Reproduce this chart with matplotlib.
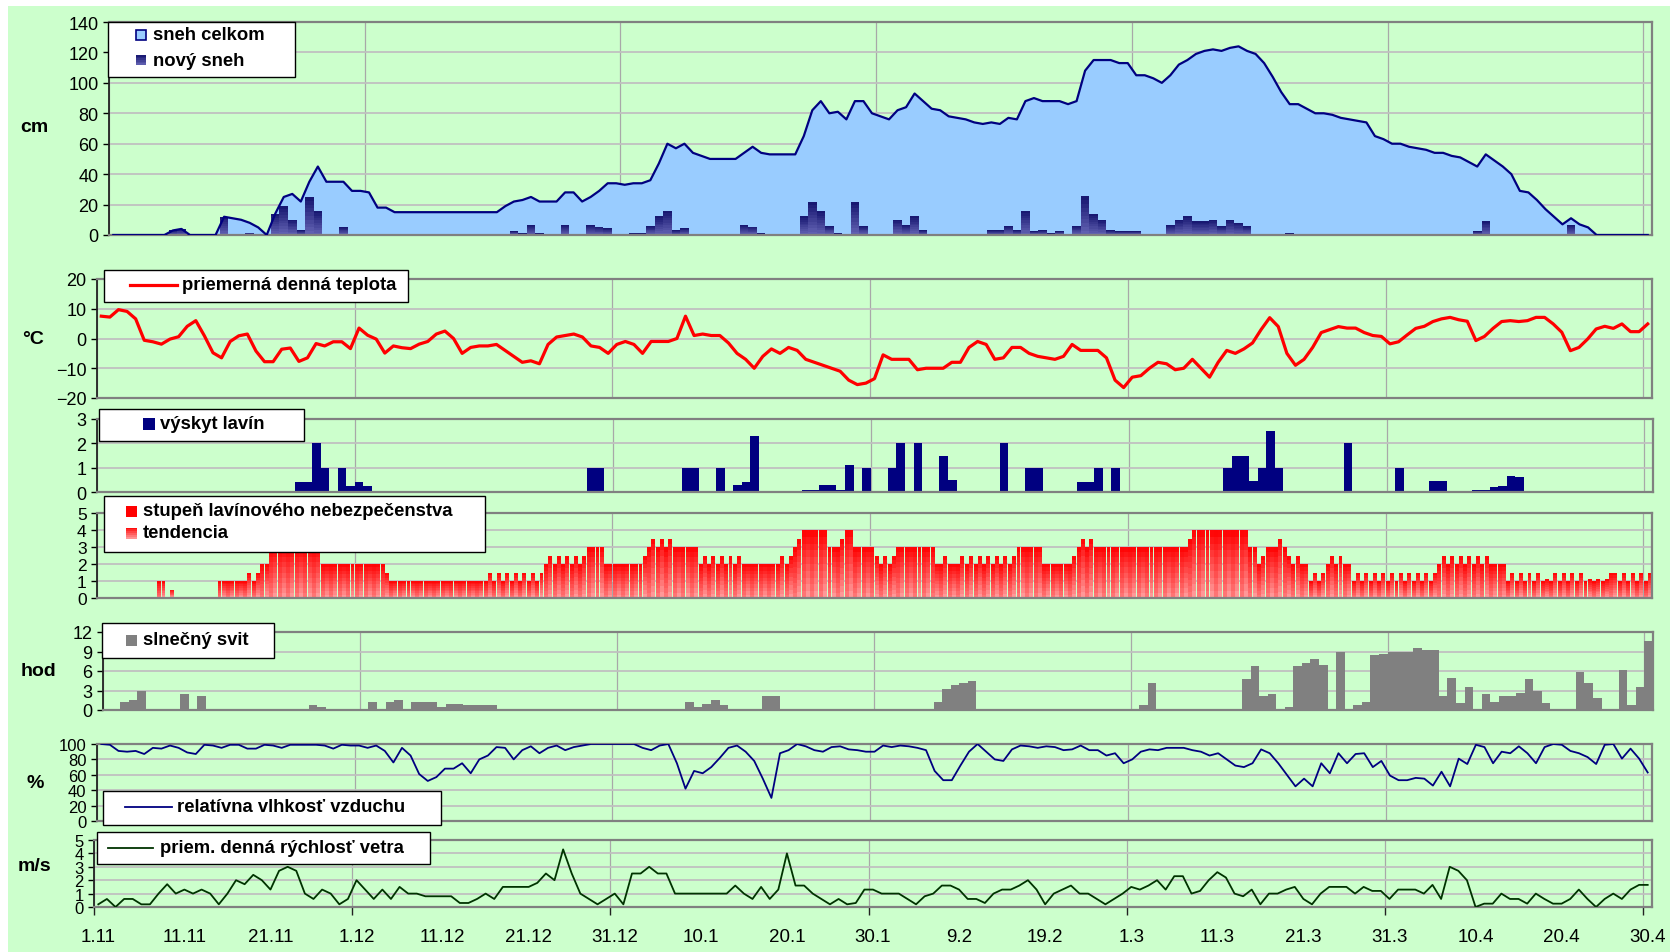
import numpy as np
import matplotlib.pyplot as plt
from matplotlib.patches import Rectangle
from matplotlib.lines import Line2D
from matplotlib.colors import to_rgb

plt.rcParams['font.family'] = ['Liberation Sans', 'DejaVu Sans']

W, H = 1670, 953  # output size in pixels
GREEN = '#CCFFCC'

# ---- data: one value per day, 1.11 .. 30.4 (181 days) ----
date_labels = ['1.11', '11.11', '21.11', '1.12', '11.12', '21.12', '31.12', '10.1', '20.1', '30.1',
               '9.2', '19.2', '1.3', '11.3', '21.3', '31.3', '10.4', '20.4', '30.4']
label_days = list(range(0, 181, 10))

snow_total = [0, 0, 0, 0, 0, 0, 0, 3, 4, 0,
              0, 0, 0, 12, 11, 10, 8, 5, 0, 14,
              25, 27, 22, 35, 45, 35, 35, 35, 29, 29,
              28, 18, 18, 15, 15, 15, 15, 15, 15, 15,
              15, 15, 15, 15, 15, 15, 19, 22, 23, 25,
              22, 22, 22, 28, 28, 22, 25, 29, 34, 34,
              33, 34, 34, 36, 47, 60, 57, 60, 54, 52,
              50, 50, 50, 50, 54, 58, 54, 53, 53, 53,
              53, 65, 82, 88, 80, 81, 76, 88, 88, 80,
              78, 76, 82, 84, 93, 88, 83, 82, 78, 77,
              76, 74, 73, 74, 73, 77, 76, 88, 90, 88,
              88, 88, 86, 88, 108, 115, 115, 115, 113, 113,
              105, 105, 103, 100, 105, 112, 115, 119, 121, 122,
              121, 123, 124, 121, 119, 113, 104, 94, 86, 86,
              83, 80, 80, 79, 77, 76, 75, 74, 65, 63,
              60, 60, 58, 57, 56, 54, 54, 52, 51, 48,
              45, 53, 49, 45, 40, 29, 28, 23, 17, 12,
              7, 11, 7, 5, 0, 0, 0, 0, 0, 0,
              0]

new_snow_days = [7, 8, 13, 16, 19, 20, 21, 22, 23, 24, 27, 47, 48, 49, 50, 53, 56, 57, 58, 61,
                 62, 63, 64, 65, 66, 67, 74, 75, 76, 81, 82, 83, 84, 85, 87, 88, 92, 93, 94, 95,
                 103, 104, 105, 106, 107, 108, 109, 110, 111, 113, 114, 115, 116, 117, 118, 119, 120,
                 124, 125, 126, 127, 128, 129, 130, 131, 132, 133, 138, 160, 161, 171]
new_snow_cm = [3, 4, 12, 1.5, 14, 19, 10, 3, 25, 16, 5, 2.5, 1, 6.5, 1, 6.5, 6.5, 5.5, 4.5, 1,
               1, 6, 12.5, 16, 3, 4.5, 6.5, 5.5, 1, 12.5, 22, 16, 6, 1, 22, 6, 10, 6.5, 12.5, 3,
               3, 3, 6, 3, 16, 2.5, 3, 1, 2.5, 6, 25.5, 14, 10, 3, 2.5, 2.5, 2.5,
               6.5, 10, 12.5, 9, 9, 10, 6, 10, 8, 6, 1, 2.5, 9, 6.5]

temp = [7.5, 7.2, 9.7, 9.1, 6.6, -0.6, -1.1, -1.9, -0.2, 0.6,
        4.1, 6.0, 0.9, -4.8, -6.5, -1.0, 0.9, 1.5, -4.2, -7.8,
        -7.8, -3.6, -3.2, -7.7, -6.5, -1.7, -2.5, -1.1, -1.1, -3.4,
        3.5, 1.1, -0.2, -4.9, -2.5, -3.1, -3.4, -1.9, -1, 1.5,
        2.5, 0, -5, -3, -2.5, -2.5, -2, -4, -6, -8,
        -7.5, -8.5, -2, 0.5, 1, 1.5, 0.5, -2.5, -3, -5,
        -2, -1, -2, -5, -1, -1, -1, 0, 7.5, 1,
        1.5, 1, 1, -1.5, -5, -7, -10, -6, -3.5, -5,
        -3, -4, -7, -8, -9, -10, -11, -14, -15.5, -15,
        -13.5, -5.5, -7, -7, -7, -10.5, -10, -10, -10, -8,
        -8, -3, -1, -2, -7, -6.5, -3, -3, -5, -6,
        -6.5, -7, -6, -2, -4, -4, -4, -6.5, -14, -16.5,
        -13, -12.5, -10, -8, -8.5, -10.5, -10, -7, -10, -13,
        -8, -4, -5, -3.5, -1.5, 3, 7, 4, -5, -9,
        -7, -3, 2, 3, 4, 3.5, 3.5, 2, 1, 0.7,
        -1.8, -1.1, 1.2, 3.4, 4.1, 5.7, 6.6, 7.1, 6.3, 5.8,
        -0.7, 0.7, 3.4, 5.7, 6, 5.7, 6, 7.1, 7.1, 4.9,
        2.1, -4.1, -3, -0.2, 3.2, 4.1, 3.4, 4.9, 2.3, 2.3,
        4.9]

aval_days = [23, 24, 25, 26, 28, 29, 30, 31, 57, 58, 68, 69, 72, 74, 75, 76, 82, 83, 84, 85,
             86, 87, 89, 92, 93, 95, 98, 99, 105, 108, 109, 114, 115, 116, 118, 131, 132, 133,
             134, 135, 136, 137, 145, 151, 155, 156, 160, 161, 162, 163, 164, 165]
aval_count = [0.4, 0.4, 2, 1, 1, 0.25, 0.4, 0.25, 1, 1, 1, 1, 1, 0.27, 0.4, 2.3, 0.1, 0.1, 0.27, 0.27,
              0.1, 1.1, 1, 1, 2, 2, 1.5, 0.5, 2, 1, 1, 0.4, 0.4, 1, 1, 1, 1.5, 1.5,
              0.45, 1, 2.5, 1, 2, 1, 0.45, 0.45, 0.1, 0.1, 0.2, 0.25, 0.66, 0.62]

danger = [0, 0, 0, 0, 0, 0, 0, 1, 0, 0,
          0, 0, 0, 0, 1, 1, 1, 1, 1, 2,
          3, 3, 3, 3, 3, 3, 2, 2, 2, 2,
          2, 2, 2, 2, 1, 1, 1, 1, 1, 1,
          1, 1, 1, 1, 1, 1, 1, 1, 1, 1,
          1, 1, 2, 2, 2, 2, 2, 3, 3, 2,
          2, 2, 2, 2, 3, 3, 3, 3, 3, 3,
          2, 2, 2, 2, 2, 2, 2, 2, 2, 2,
          2, 3, 4, 4, 4, 3, 3, 4, 3, 3,
          3, 2, 2, 3, 3, 3, 3, 3, 2, 2,
          2, 2, 2, 2, 2, 2, 2, 3, 3, 3,
          2, 2, 2, 2, 3, 3, 3, 3, 3, 3,
          3, 3, 3, 3, 3, 3, 3, 3.5, 4, 4,
          4, 4, 4, 4, 3, 2, 3, 3, 3, 2,
          2, 1, 1, 2, 2, 2, 1, 1, 1, 1,
          1, 1, 1, 1, 1, 1, 2, 2, 2, 2,
          2, 2, 2, 2, 1, 1, 1, 1, 1, 1,
          1, 1, 1, 1, 1, 1, 1.5, 1, 1, 1,
          1]
tendency = [0, 0, 0, 0, 0, 0, 0, 1, 0.5, 0,
            0, 0, 0, 0, 1, 1, 1, 1.5, 1.5, 2,
            3, 3, 3, 3, 3, 3, 2, 2, 2, 2,
            2, 2, 2, 1.5, 1, 1, 1, 1, 1, 1,
            1, 1, 1, 1, 1, 1.5, 1.5, 1.5, 1.5, 1.5,
            1.5, 1.5, 2.5, 2.5, 2.5, 2.5, 2.5, 3, 3, 2,
            2, 2, 2, 2.5, 3.5, 3.5, 3.5, 3, 3, 3,
            2.5, 2.5, 2.5, 2.5, 2.5, 2, 2, 2, 2, 2.5,
            2.5, 3.5, 4, 4, 4, 3, 3.5, 4, 3, 3,
            2.5, 2.5, 2.5, 3, 3, 3, 3, 2, 2.5, 2,
            2.5, 2.5, 2.5, 2.5, 2.5, 2.5, 2.5, 3, 3, 3,
            2, 2, 2, 2.5, 3.5, 3.5, 3, 3, 3, 3,
            3, 3, 3, 3, 3, 3, 3, 4, 4, 4,
            4, 4, 4, 4, 3, 2.5, 3, 3.5, 2.5, 2.5,
            2, 1.5, 1.5, 2.5, 2.5, 2, 1.5, 1.5, 1.5, 1.5,
            1.5, 1.5, 1.5, 1.5, 1.5, 1.5, 2.5, 2.5, 2.5, 2.5,
            2.5, 2.5, 2, 2, 1.5, 1.5, 1.5, 1.5, 1.1, 1.5,
            1.5, 1.5, 1.5, 1.1, 1.1, 1.1, 1.5, 1.5, 1.5, 1.5,
            1.5]

sun_days = [2, 3, 4, 9, 11, 24, 25, 31, 33, 34, 36, 37, 38, 39, 40, 41, 42, 43, 44, 45,
            68, 69, 70, 71, 72, 76, 77, 78, 97, 98, 99, 100, 101, 121, 122, 128, 131, 133, 134, 135,
            136, 138, 139, 140, 141, 142, 144, 146, 147, 148, 149, 150, 151, 152, 153, 154, 155, 156,
            157, 158, 159, 161, 162, 163, 164, 165, 166, 167, 168, 169, 172, 173, 174, 176, 177, 178,
            179, 180]
sun_hours = [1.2, 1.5, 2.9, 2.4, 2.1, 0.8, 0.5, 1.2, 1.2, 1.5, 1.2, 1.2, 1.2, 0.5, 1.0, 1.0, 0.75, 0.75, 0.75, 0.75,
             1.2, 0.5, 1.0, 1.5, 0.75, 0.15, 2.1, 2.1, 1.2, 3.2, 3.8, 4.1, 4.4, 0.75, 4.1, 0.15, 0.15, 4.7, 6.7, 2.1,
             2.4, 0.5, 6.7, 7.2, 7.8, 7.0, 8.9, 0.75, 1.2, 8.4, 8.6, 8.9, 8.9, 8.9, 9.5, 9.2, 9.2, 2.1,
             4.9, 1.1, 3.5, 2.4, 1.2, 2.1, 2.1, 2.6, 4.7, 3.0, 1.1, 0.15, 5.8, 4.1, 1.8, 0.15, 6.1, 0.75,
             3.5, 10.6]

humidity = [100, 99, 91, 90, 91, 87, 95, 94, 98, 95,
            89, 87, 99, 98, 95, 99, 99, 94, 94, 99,
            98, 95, 99, 99, 99, 99, 98, 94, 99, 98,
            98, 95, 98, 91, 76, 95, 85, 61, 52, 57,
            68, 68, 75, 62, 80, 85, 96, 95, 80, 92,
            97, 88, 95, 98, 92, 96, 98, 100, 100, 100,
            100, 100, 100, 95, 92, 98, 100, 75, 42, 65,
            62, 70, 82, 95, 98, 90, 78, 55, 30, 88,
            92, 100, 97, 92, 90, 96, 97, 93, 92, 90,
            90, 98, 96, 98, 97, 95, 92, 65, 53, 53,
            72, 90, 100, 90, 80, 78, 93, 98, 97, 95,
            97, 96, 92, 93, 98, 92, 92, 85, 88, 75,
            80, 90, 93, 92, 95, 95, 95, 92, 90, 85,
            88, 80, 72, 70, 75, 93, 88, 75, 60, 45,
            55, 45, 75, 62, 88, 75, 87, 88, 70, 78,
            59, 53, 53, 56, 55, 46, 64, 45, 81, 74,
            99, 96, 75, 90, 88, 97, 88, 75, 96, 100,
            99, 91, 88, 83, 74, 99, 100, 81, 94, 81,
            63]

wind = [0.2, 0.6, 0, 0.6, 0.6, 0.2, 0.2, 1.0, 1.7, 1.0,
        1.3, 1.0, 1.3, 1.0, 0.2, 1.0, 2.0, 1.7, 2.4, 2.0,
        1.3, 2.7, 3.0, 2.7, 1.0, 0.6, 1.3, 1.0, 0.2, 0.6,
        2.0, 1.3, 0.6, 1.3, 0.6, 1.5, 1.0, 1.0, 0.8, 0.8,
        0.8, 0.8, 0.3, 0.3, 0.6, 1.0, 0.6, 1.5, 1.5, 1.5,
        1.5, 1.8, 2.5, 2.0, 4.3, 2.5, 1.0, 0.6, 0.2, 0.6,
        1.0, 0.2, 2.5, 2.5, 3.0, 2.5, 2.5, 1.0, 1.0, 1.0,
        1.0, 1.0, 1.0, 1.0, 1.6, 1.0, 0.6, 1.5, 0.6, 1.3,
        4.0, 1.6, 1.6, 1.0, 0.6, 0.2, 0.6, 0.2, 0.3, 1.3,
        1.3, 1.0, 1.0, 1.0, 0.6, 0.2, 0.8, 1.0, 1.6, 1.6,
        1.3, 0.6, 0.6, 0.3, 1.0, 1.3, 1.3, 1.6, 2.0, 1.3,
        0.2, 1.0, 1.3, 1.6, 1.0, 1.0, 0.6, 0.2, 0.6, 1.0,
        1.5, 1.3, 1.6, 2.0, 1.3, 2.3, 2.3, 1.0, 1.2, 2.0,
        2.6, 2.2, 1.0, 0.8, 1.3, 0.2, 1.0, 1.0, 1.3, 1.5,
        0.6, 0.2, 1.0, 1.5, 1.5, 1.5, 1.0, 1.5, 1.2, 1.2,
        0.6, 1.3, 1.3, 1.3, 1.0, 1.65, 0.6, 3.0, 2.7, 2.0,
        0, 0.25, 0.25, 1.0, 0.6, 0.6, 0.25, 1.0, 0.6, 0.25,
        0.25, 0.6, 1.3, 0.6, 0, 0.6, 1.0, 0.6, 1.3, 1.65,
        1.65]

days = np.arange(len(snow_total))


def sparse(idx, vals):
    a = np.zeros(len(days))
    a[idx] = vals
    return a


def fx(x):  # pixel -> figure fraction
    return x / W


def fy(y):
    return 1 - y / H


fig = plt.figure(figsize=(W / 100, H / 100), dpi=100)
fig.patch.set_facecolor('white')
fig.add_artist(Rectangle((fx(8), 0), 1, fy(7), transform=fig.transFigure,
                         facecolor=GREEN, lw=0, zorder=-10))


def panel(x0, y0, x1, y1, ylim, yticks, fs=13):
    ax = fig.add_axes([fx(x0), fy(y1), (x1 - x0) / W, (y1 - y0) / H])
    ax.set_facecolor(GREEN)
    ax.set_xlim(-0.5, 180.5)
    ax.set_ylim(*ylim)
    ax.set_yticks(yticks)
    ax.set_xticks(np.arange(-0.5, 181, 30))
    ax.set_axisbelow(True)
    ax.grid(axis='y', color='#C0C0C0', lw=1.3)
    ax.grid(axis='x', color='#A8A8A8', lw=0.9)
    for s in ['top', 'right', 'bottom']:
        ax.spines[s].set_color('#808080')
        ax.spines[s].set_linewidth(1.6)
    ax.spines['left'].set_color('#222222')
    ax.spines['left'].set_linewidth(1.3)
    ax.tick_params(axis='y', direction='out', length=4.5, width=1, pad=3, labelsize=fs)
    ax.tick_params(axis='x', length=0, labelbottom=False)
    return ax


def grad_bars(ax, x, h, width, c_bot, c_top, n=10):
    b, t = np.array(to_rgb(c_bot)), np.array(to_rgb(c_top))
    h = np.asarray(h, float)
    for j in range(n):
        c = tuple(b + (t - b) * (j + 0.5) / n)
        ax.bar(x, h / n, width, bottom=h * j / n, color=c, lw=0, antialiased=False, zorder=2)


# legend helpers (pixel coordinates)
def legend_box(x0, y0, x1, y1):
    fig.add_artist(Rectangle((fx(x0), fy(y1)), (x1 - x0) / W, (y1 - y0) / H, transform=fig.transFigure,
                             facecolor='white', edgecolor='black', lw=1, zorder=20))


def legend_text(x, y, s):
    fig.text(fx(x), fy(y), s, fontsize=13.3, fontweight='bold', ha='left', va='center', zorder=21)


def legend_square(x, y, size, color, edge='none'):
    fig.add_artist(Rectangle((fx(x), fy(y + size / 2)), size / W, size / H, transform=fig.transFigure,
                             facecolor=color, edgecolor=edge, lw=1.2, zorder=21))


def legend_grad(x, y, size, c_bot, c_top, n=6):
    b, t = np.array(to_rgb(c_bot)), np.array(to_rgb(c_top))
    for j in range(n):
        c = tuple(b + (t - b) * (j + 0.5) / n)
        yy = y + size / 2 - size * (j + 1) / n
        fig.add_artist(Rectangle((fx(x), fy(yy + size / n)), size / W, size / n / H,
                                 transform=fig.transFigure, facecolor=c, lw=0, zorder=21))


def legend_line(x0, x1, y, color, lw):
    fig.add_artist(Line2D([fx(x0), fx(x1)], [fy(y), fy(y)], transform=fig.transFigure,
                          color=color, lw=lw, zorder=21))


# ---- snow ----
ax1 = panel(109, 23, 1652, 236, (0, 140), range(0, 141, 20))
ax1.fill_between(days, 0, snow_total, color='#99CCFF', lw=0, zorder=1)
grad_bars(ax1, days, sparse(new_snow_days, new_snow_cm), 1.0, '#6464B4', '#14146E')
ax1.plot(days, snow_total, color='#000080', lw=1.6, zorder=3)

# ---- temperature ----
ax2 = panel(97, 280, 1652, 399, (-20, 20), range(-20, 21, 10))
ax2.plot(days, temp, color='#FF0000', lw=2.3, solid_joinstyle='round', zorder=3)

# ---- avalanches ----
ax3 = panel(97, 420, 1653, 493, (0, 3), range(0, 4))
ax3.bar(days, sparse(aval_days, aval_count), 1.0, color='#000080', lw=0, zorder=2)

# ---- danger level + tendency ----
ax4 = panel(97, 514, 1652, 599, (0, 5), range(0, 6), fs=12.5)
grad_bars(ax4, days - 0.24, danger, 0.46, '#FF7A7A', '#FF0000')
grad_bars(ax4, days + 0.24, tendency, 0.46, '#FFA0A0', '#FF0000')

# ---- sunshine ----
ax5 = panel(103, 633, 1653, 711, (0, 12), range(0, 13, 3))
ax5.bar(days, sparse(sun_days, sun_hours), 1.0, color='#808080', lw=0, zorder=2)

# ---- humidity ----
ax6 = panel(97, 745, 1652, 822, (0, 100), range(0, 101, 20), fs=12)
ax6.plot(days, humidity, color='#000080', lw=1.3, zorder=3)

# ---- wind ----
ax7 = panel(94, 841, 1652, 908, (0, 5), range(0, 6), fs=12)
ax7.plot(days, wind, color='#003300', lw=1.3, zorder=3)
ax7.tick_params(axis='x', which='major', length=6, width=1, color='#222222', direction='out')
ax7.set_xticks(label_days, minor=True)
ax7.set_xticklabels(date_labels, minor=True)
ax7.tick_params(axis='x', which='minor', length=0, pad=15, labelsize=13.5, labelbottom=True)

# unit labels
for x, y, s in [(34, 128, 'cm'), (33, 340, '°C'), (38, 672, 'hod'), (35, 784, '%'), (34, 867, 'm/s')]:
    fig.text(fx(x), fy(y), s, fontsize=14, fontweight='bold', ha='center', va='center')

# legends
legend_box(108, 23, 295, 78)
legend_square(136, 36, 10, '#99CCFF', '#000080')
legend_text(153, 36, 'sneh celkom')
legend_grad(136, 61, 10, '#6464B4', '#14146E')
legend_text(153, 61, 'nový sneh')

legend_box(104, 271, 408, 303)
legend_line(130, 177, 286, '#FF0000', 2.3)
legend_text(182, 286, 'priemerná denná teplota')

legend_box(99, 410, 304, 442)
legend_square(143, 425, 12, '#000080')
legend_text(160, 425, 'výskyt lavín')

legend_box(104, 497, 485, 553)
legend_square(126, 512, 11, '#FF0000')
legend_text(143, 512, 'stupeň lavínového nebezpečenstva')
legend_grad(126, 534, 11, '#FFA0A0', '#FF0000')
legend_text(143, 534, 'tendencia')

legend_box(102, 624, 274, 659)
legend_square(126, 641, 11, '#808080')
legend_text(143, 641, 'slnečný svit')

legend_box(103, 792, 441, 826)
legend_line(125, 172, 808, '#000080', 1.3)
legend_text(177, 808, 'relatívna vlhkosť vzduchu')

legend_box(97, 833, 430, 865)
legend_line(108, 153, 849, '#003300', 1.3)
legend_text(160, 849, 'priem. denná rýchlosť vetra')

fig.savefig('out.png', dpi=100, facecolor=fig.get_facecolor())
